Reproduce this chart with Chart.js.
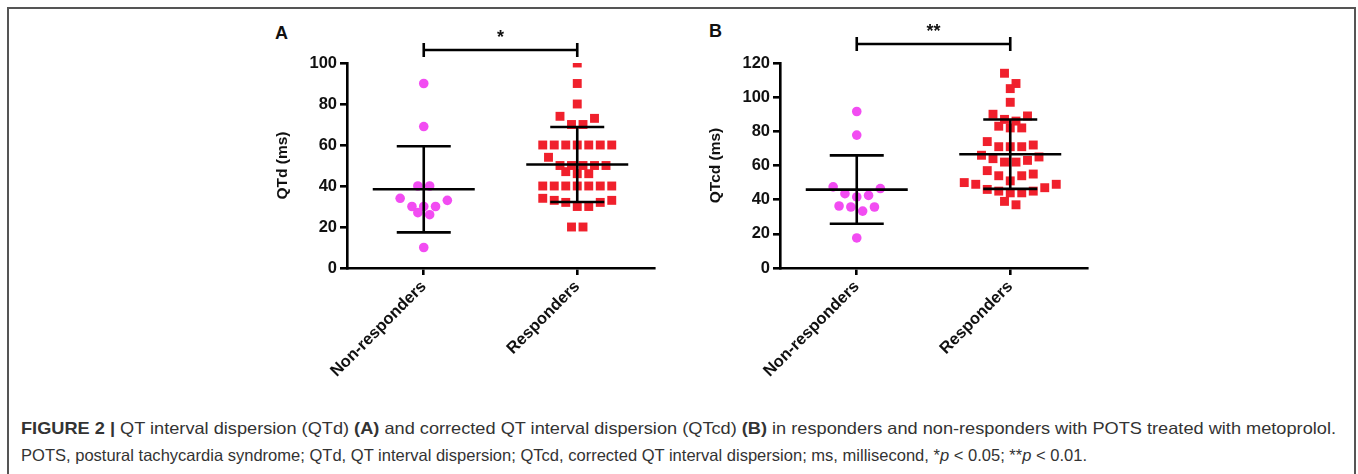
<!DOCTYPE html>
<html>
<head>
<meta charset="utf-8">
<script src="https://cdn.jsdelivr.net/npm/chart.js@4.4.1/dist/chart.umd.min.js"></script>
<style>
  html, body { margin: 0; padding: 0; background: #fff; }
  body { width: 1358px; height: 474px; position: relative; overflow: hidden; font-family: Arial, "Liberation Sans", sans-serif; }
  .frame { position: absolute; left: 7px; top: 7px; width: 1345px; height: 520px; border: 2px solid #555; }
  .panel { position: absolute; top: 0; width: 430px; height: 400px; }
  .letter { position: absolute; font: bold 18px Arial, "Liberation Sans", sans-serif; line-height: 18px; color: #111; }
  .caption { position: absolute; left: 21px; top: 415px; font-family: Arial, "Liberation Sans", sans-serif; font-size: 16.5px; line-height: 27px; color: #333; white-space: nowrap; }
  .caption span.line { display: inline-block; transform-origin: 0 0; }
</style>
</head>
<body>
<div class="frame"></div>
<div class="letter" style="left:275px; top:24px;">A</div>
<div class="letter" style="left:709px; top:22px;">B</div>
<div class="panel" style="left:242px;"><canvas id="chartA"></canvas></div>
<div class="panel" style="left:675px;"><canvas id="chartB"></canvas></div>
<div class="caption">
  <div><span class="line" data-w="1315"><b>FIGURE 2 |</b> QT interval dispersion (QTd) <b>(A)</b> and corrected QT interval dispersion (QTcd) <b>(B)</b> in responders and non-responders with POTS treated with metoprolol.</span></div>
  <div><span class="line" data-w="1066">POTS, postural tachycardia syndrome; QTd, QT interval dispersion; QTcd, corrected QT interval dispersion; ms, millisecond, *<i>p</i> &lt; 0.05; **<i>p</i> &lt; 0.01.</span></div>
</div>
<script>
const categories = ['Non-responders', 'Responders'];

// panel A: QTd (ms)
const qtdNon = [90, 69, 40, 40, 34, 33, 30, 30, 30, 27, 26, 10];
const qtdResp = [100, 90, 80, 74, 73, 70, 70, 60, 60, 60, 60, 60, 60, 60, 54, 50, 50, 50, 50, 50, 47, 46, 46,
  40, 40, 40, 40, 40, 40, 40, 34, 33, 33, 32, 32, 30, 30, 20, 20];
const qtdMean = [38.4, 50.5];
const qtdSD = [21.0, 18.3];
const qtdTicks = [0, 20, 40, 60, 80, 100];

// panel B: QTcd (ms)
const qtcdNon = [91.6, 77.8, 47.5, 46.5, 43.5, 42.5, 41.6, 36.3, 35.7, 35.7, 33.3, 17.6];
const qtcdResp = [114, 108, 105, 97, 90, 89, 87, 86, 83, 82, 82, 74, 72, 71, 71, 71, 66, 65, 64, 63, 62, 62,
  57, 55, 54, 54, 51, 50, 49, 49, 47, 46, 45, 45, 44, 44, 39, 37];
const qtcdMean = [45.9, 66.6];
const qtcdSD = [20.0, 20.3];
const qtcdTicks = [0, 20, 40, 60, 80, 100, 120];

Chart.defaults.font.family = 'Arial, "Liberation Sans", sans-serif';
Chart.defaults.color = '#111';
Chart.defaults.animation = false;

// lay points of one group out in rows, like a column scatter:
// lower values of a row sit in the middle, higher ones go to the ends
const swarmPlugin = {
  id: 'swarm',
  afterDatasetsUpdate(chart, args, opts) {
    const xs = chart.scales.x, ys = chart.scales.y;
    chart.data.datasets.forEach((ds, i) => {
      const meta = chart.getDatasetMeta(i);
      const pts = meta.data.map((el, k) => ({ el, py: ys.getPixelForValue(ds.data[k].y), cx: xs.getPixelForValue(ds.data[k].x) }));
      pts.sort((a, b) => a.py - b.py);
      let row = [];
      const flush = () => {
        const n = row.length;
        const slots = [];
        for (let j = 0; j < n; j++) slots.push(j - (n - 1) / 2);
        slots.sort((a, b) => Math.abs(a) - Math.abs(b) || b - a);
        row.sort((a, b) => b.py - a.py);
        row.forEach((p, j) => { p.el.x = p.cx + slots[j] * ds.swarmStep; });
        row = [];
      };
      pts.forEach(p => {
        if (row.length && p.py - row[0].py > opts.rowGap) flush();
        row.push(p);
      });
      flush();
    });
  }
};

const errorBarPlugin = {
  id: 'errorBars',
  afterDatasetsDraw(chart, args, opts) {
    const { ctx, scales: { x, y } } = chart;
    ctx.save();
    ctx.strokeStyle = '#000';
    ctx.lineWidth = 2.6;
    opts.means.forEach((m, i) => {
      const cx = x.getPixelForValue(i + 1);
      const yM = y.getPixelForValue(m);
      const yHi = y.getPixelForValue(m + opts.sds[i]);
      const yLo = y.getPixelForValue(m - opts.sds[i]);
      ctx.beginPath();
      ctx.moveTo(cx - 51, yM); ctx.lineTo(cx + 51, yM);
      ctx.moveTo(cx - 27, yHi); ctx.lineTo(cx + 27, yHi);
      ctx.moveTo(cx - 27, yLo); ctx.lineTo(cx + 27, yLo);
      ctx.moveTo(cx, yHi); ctx.lineTo(cx, yLo);
      ctx.stroke();
    });
    ctx.restore();
  }
};

const bracketPlugin = {
  id: 'bracket',
  afterDraw(chart, args, opts) {
    const { ctx, scales: { x } } = chart;
    const x1 = x.getPixelForValue(1), x2 = x.getPixelForValue(2);
    const yb = opts.y;
    ctx.save();
    ctx.strokeStyle = '#000';
    ctx.lineWidth = 2.6;
    ctx.beginPath();
    ctx.moveTo(x1, yb); ctx.lineTo(x2, yb);
    ctx.moveTo(x1, yb - 7); ctx.lineTo(x1, yb + 7);
    ctx.moveTo(x2, yb - 7); ctx.lineTo(x2, yb + 7);
    ctx.stroke();
    ctx.fillStyle = '#111';
    ctx.font = 'bold 18px Arial, "Liberation Sans", sans-serif';
    ctx.textAlign = 'center';
    ctx.textBaseline = 'middle';
    ctx.fillText(opts.label, (x1 + x2) / 2, yb - 12);
    ctx.restore();
  }
};

function makePanel(id, yTitle, nonVals, respVals, means, sds, ticks, bracketY, star) {
  const ctx = document.getElementById(id);
  return new Chart(ctx, {
    type: 'scatter',
    data: {
      datasets: [{
        label: categories[0],
        data: nonVals.map(v => ({ x: 1, y: v })),
        pointStyle: 'circle',
        pointRadius: 4.8,
        backgroundColor: '#f24cf2',
        borderWidth: 0,
        swarmStep: 11.8
      }, {
        label: categories[1],
        data: respVals.map(v => ({ x: 2, y: v })),
        pointStyle: 'rect',
        pointRadius: 6.3,
        backgroundColor: '#f0202c',
        borderWidth: 0,
        swarmStep: 11.5
      }]
    },
    options: {
      responsive: true,
      maintainAspectRatio: false,
      events: [],
      layout: { padding: { top: 63, right: 18, bottom: 0, left: 0 } },
      plugins: {
        legend: { display: false },
        tooltip: { enabled: false },
        swarm: { rowGap: 10.5 },
        errorBars: { means: means, sds: sds },
        bracket: { y: bracketY, label: star }
      },
      scales: {
        x: {
          type: 'linear',
          min: 0.5,
          max: 2.5,
          afterBuildTicks: s => { s.ticks = [{ value: 1 }, { value: 2 }]; },
          afterFit: s => { s.height = 132; },
          ticks: {
            callback: v => categories[v - 1],
            autoSkip: false,
            minRotation: 45,
            maxRotation: 45,
            padding: 2,
            color: '#111',
            font: { weight: 'bold', size: 16.5 }
          },
          grid: { drawOnChartArea: false, drawTicks: true, tickLength: 7, color: '#000', lineWidth: 2.6 },
          border: { color: '#000', width: 2.6 }
        },
        y: {
          min: ticks[0],
          max: ticks[ticks.length - 1],
          afterBuildTicks: s => { s.ticks = ticks.map(v => ({ value: v })); },
          afterFit: s => { s.width = 105; },
          ticks: { padding: 3, color: '#111', font: { weight: 'bold', size: 16.5 } },
          grid: { drawOnChartArea: false, drawTicks: true, tickLength: 7, color: '#000', lineWidth: 2.6 },
          border: { color: '#000', width: 2.6 },
          title: { display: true, text: yTitle, color: '#111', font: { weight: 'bold', size: 15.5 }, padding: { top: 31, bottom: 0 } }
        }
      }
    },
    plugins: [swarmPlugin, errorBarPlugin, bracketPlugin]
  });
}

makePanel('chartA', 'QTd (ms)', qtdNon, qtdResp, qtdMean, qtdSD, qtdTicks, 50, '*');
makePanel('chartB', 'QTcd (ms)', qtcdNon, qtcdResp, qtcdMean, qtcdSD, qtcdTicks, 44, '**');

// fit caption lines to the widths in the figure
document.querySelectorAll('.caption span.line').forEach(el => {
  const w = el.getBoundingClientRect().width;
  el.style.transform = 'scaleX(' + (Number(el.dataset.w) / w) + ')';
});
</script>
</body>
</html>
